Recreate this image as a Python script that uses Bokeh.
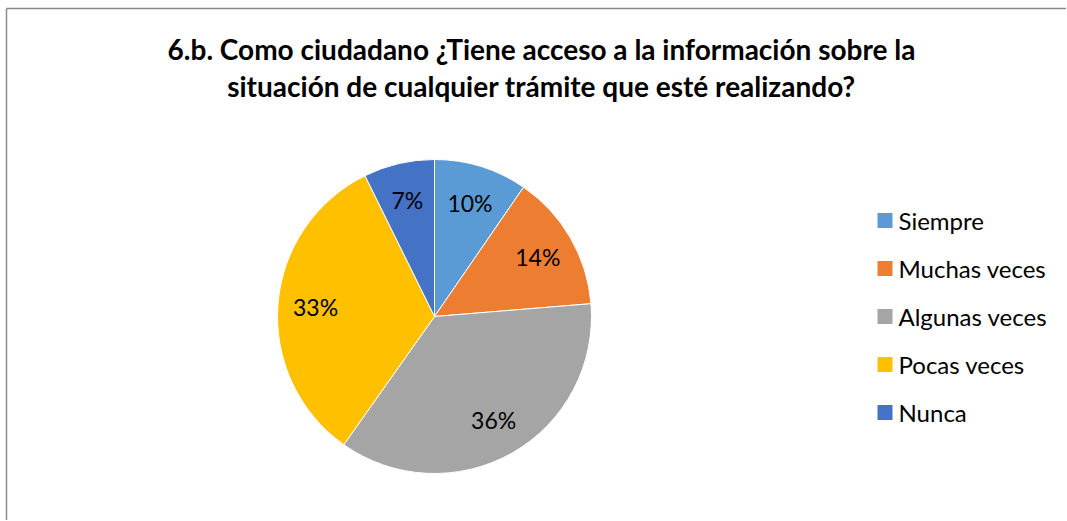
import math
from bokeh.plotting import figure
from bokeh.models import Range1d, ColumnDataSource
from bokeh.core.properties import value
from bokeh.embed import file_html
from bokeh.resources import INLINE

categories = ["Siempre", "Muchas veces", "Algunas veces", "Pocas veces", "Nunca"]
percent = [9.6, 14.1, 36.1, 32.9, 7.3]
colors = ["#5B9BD5", "#ED7D31", "#A5A5A5", "#FFC000", "#4472C4"]
title_lines = ["6.b. Como ciudadano ¿Tiene acceso a la información sobre la",
               "situación de cualquier trámite que esté realizando?"]

W, H = 1066, 520
p = figure(width=W, height=H, output_backend="svg", toolbar_location=None,
           x_range=Range1d(0, W), y_range=Range1d(0, H), min_border=0,
           outline_line_color=None)
p.axis.visible = False
p.grid.visible = False
p.background_fill_color = "white"
p.border_fill_color = "white"

# frame lines (left and top)
p.segment(x0=[6, 6], y0=[0, H - 8], x1=[6, W], y1=[H - 8, H - 8],
          line_color="#8a8a8a", line_width=1.5, line_cap="butt")

cx, cy, r = 434, H - 316, 157
total = sum(percent)
starts, ends, lx, ly, labels = [], [], [], [], []
cum = 0.0
for v in percent:
    a0 = math.pi / 2 - 2 * math.pi * cum / total
    cum += v
    a1 = math.pi / 2 - 2 * math.pi * cum / total
    starts.append(a1)
    ends.append(a0)
    mid = (a0 + a1) / 2
    lx.append(cx + 0.76 * r * math.cos(mid))
    ly.append(cy + 0.76 * r * math.sin(mid))
    labels.append(f"{round(100 * v / total)}%")

src = ColumnDataSource(dict(start=starts, end=ends, color=colors, lx=lx, ly=ly, label=labels))
p.wedge(x=cx, y=cy, radius=r, start_angle="start", end_angle="end", fill_color="color",
        line_color="white", line_width=1, source=src)
p.text(x="lx", y="ly", text="label", source=src, text_align="center", text_baseline="middle",
       text_font=value("Lato"), text_font_size="23px", text_color="#000000")

# legend
lgx, lgy0, step = 877, H - 220, 48
leg = ColumnDataSource(dict(x=[lgx + 7.5] * 5, y=[lgy0 - i * step for i in range(5)],
                            tx=[lgx + 21] * 5, name=categories, color=colors))
p.rect(x="x", y="y", width=15, height=15, fill_color="color", line_color=None, source=leg)
p.text(x="tx", y="y", text="name", source=leg, text_align="left", text_baseline="middle",
       text_font=value("Lato"), text_font_size="24px", text_color="#000000")

# title
for i, t in enumerate(title_lines):
    p.text(x=[541], y=[H - 48 - i * 37], text=[t], text_align="center", text_baseline="middle",
           text_font=value("Lato"), text_font_style="bold", text_font_size="28px",
           text_color="#000000")

open("out.html", "w").write(file_html(p, INLINE))
